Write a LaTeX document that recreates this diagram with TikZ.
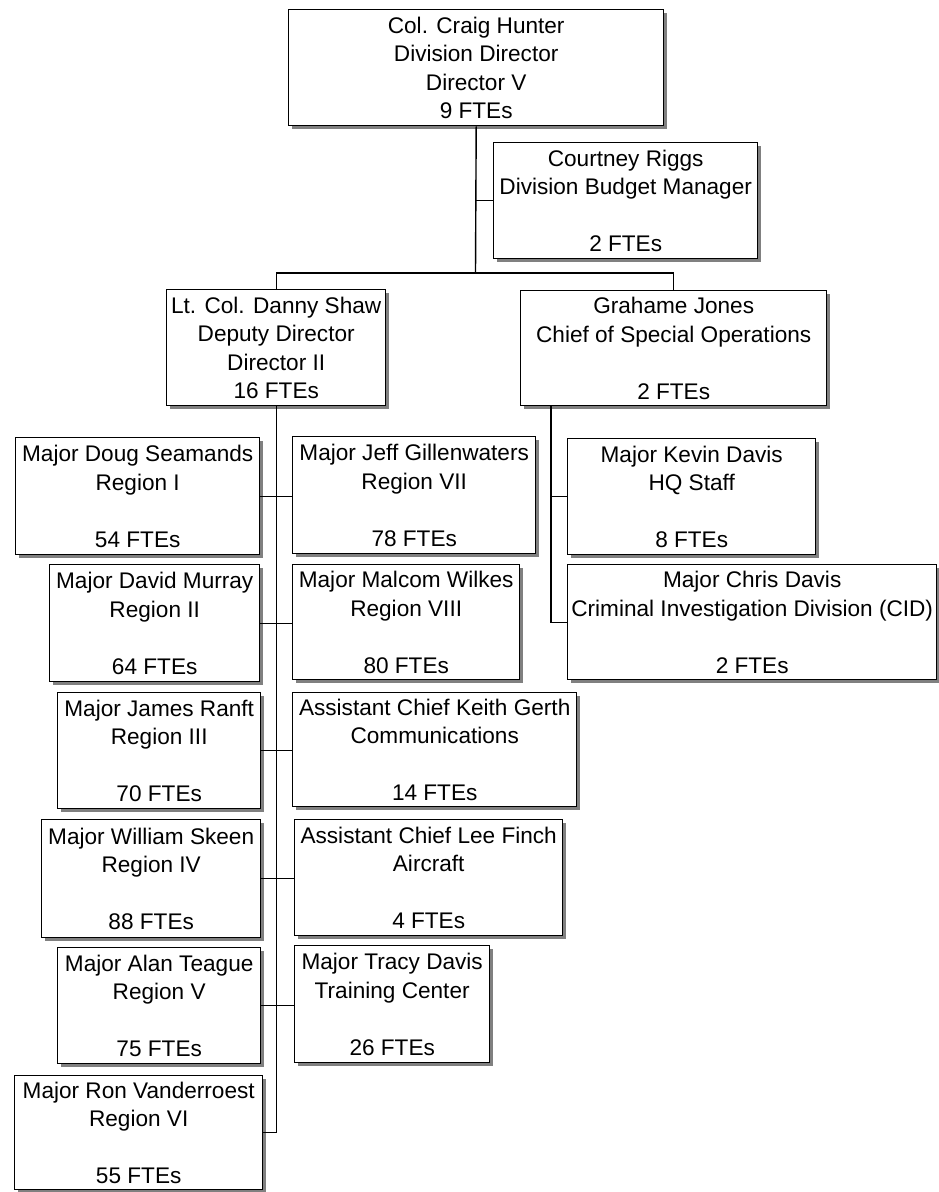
\documentclass[tikz,border=0pt]{standalone}
\usepackage{fontspec}
\setmainfont{Liberation Sans}
\usetikzlibrary{shadows}

\tikzset{
  orgbox/.style={draw, line width=1.4pt, fill=white, inner sep=0pt,
    anchor=north west, align=center,
    font={\fontsize{22.6}{28.5}\selectfont},
    drop shadow={shadow xshift=3pt, shadow yshift=-3pt, fill=black!50, opacity=1}},
  link/.style={line width=1.4pt}
}

\begin{document}
\begin{tikzpicture}[x=1pt, y=1pt]
  \useasboundingbox[fill=white] (0,0) rectangle (939,-1192);

  % top of the division
  \node[orgbox, minimum width=375, minimum height=116] (hunter) at (288,-9)
    {Col. Craig Hunter\\Division Director\\Director V\\9 FTEs};
  \node[orgbox, minimum width=264, minimum height=116] (riggs) at (493,-142)
    {Courtney Riggs\\Division Budget Manager\\\mbox{}\\2 FTEs};
  \node[orgbox, minimum width=219, minimum height=116] (shaw) at (166,-289)
    {Lt. Col. Danny Shaw\\Deputy Director\\Director II\\16 FTEs};
  \node[orgbox, minimum width=306, minimum height=115] (jones) at (520,-290)
    {Grahame Jones\\Chief of Special Operations\\\mbox{}\\2 FTEs};

  % regions and sections under the deputy director
  \node[orgbox, minimum width=244, minimum height=117] (seamands) at (15,-437)
    {Major Doug Seamands\\Region I\\\mbox{}\\54 FTEs};
  \node[orgbox, minimum width=243, minimum height=117] (gillen) at (292,-436)
    {Major Jeff Gillenwaters\\Region VII\\\mbox{}\\78 FTEs};
  \node[orgbox, minimum width=210, minimum height=117] (murray) at (49,-564)
    {Major David Murray\\Region II\\\mbox{}\\64 FTEs};
  \node[orgbox, minimum width=227, minimum height=115] (wilkes) at (292,-564)
    {Major Malcom Wilkes\\Region VIII\\\mbox{}\\80 FTEs};
  \node[orgbox, minimum width=203, minimum height=116] (ranft) at (57,-692)
    {Major James Ranft\\Region III\\\mbox{}\\70 FTEs};
  \node[orgbox, minimum width=284, minimum height=114] (gerth) at (292,-692)
    {Assistant Chief Keith Gerth\\Communications\\\mbox{}\\14 FTEs};
  \node[orgbox, minimum width=219, minimum height=118] (skeen) at (41,-819)
    {Major William Skeen\\Region IV\\\mbox{}\\88 FTEs};
  \node[orgbox, minimum width=268, minimum height=116] (finch) at (294,-819)
    {Assistant Chief Lee Finch\\Aircraft\\\mbox{}\\4 FTEs};
  \node[orgbox, minimum width=203, minimum height=116] (teague) at (57,-947)
    {Major Alan Teague\\Region V\\\mbox{}\\75 FTEs};
  \node[orgbox, minimum width=195, minimum height=117] (tracy) at (294,-945)
    {Major Tracy Davis\\Training Center\\\mbox{}\\26 FTEs};
  \node[orgbox, minimum width=248, minimum height=114] (vander) at (14,-1075)
    {Major Ron Vanderroest\\Region VI\\\mbox{}\\55 FTEs};

  % special operations
  \node[orgbox, minimum width=248, minimum height=116] (kdavis) at (567,-438)
    {Major Kevin Davis\\HQ Staff\\\mbox{}\\8 FTEs};
  \node[orgbox, minimum width=369, minimum height=115] (cdavis) at (567,-564)
    {Major Chris Davis\\Criminal Investigation Division (CID)\\\mbox{}\\2 FTEs};

  % connectors
  \coordinate (split) at (475.5,-273);
  \coordinate (jtrunk) at ([xshift=31pt]jones.south west);

  \draw[link] (hunter.south) -- (split);
  \draw[link] (riggs.west) -- (riggs.west -| split);
  \draw[link] (shaw.north) -- (shaw.north |- split) -- (jones.north |- split) -- (jones.north);

  \draw[link] (shaw.south) -- (shaw.south |- vander.east) -- (vander.east);
  \draw[link] (seamands.east) -- (seamands.east -| gillen.west);
  \draw[link] (murray.east) -- (murray.east -| wilkes.west);
  \draw[link] (ranft.east) -- (ranft.east -| gerth.west);
  \draw[link] (skeen.east) -- (skeen.east -| finch.west);
  \draw[link] (teague.east) -- (teague.east -| tracy.west);

  \draw[link] (jtrunk) |- (cdavis.west);
  \draw[link] (kdavis.west) -- (kdavis.west -| jtrunk);
\end{tikzpicture}
\end{document}
